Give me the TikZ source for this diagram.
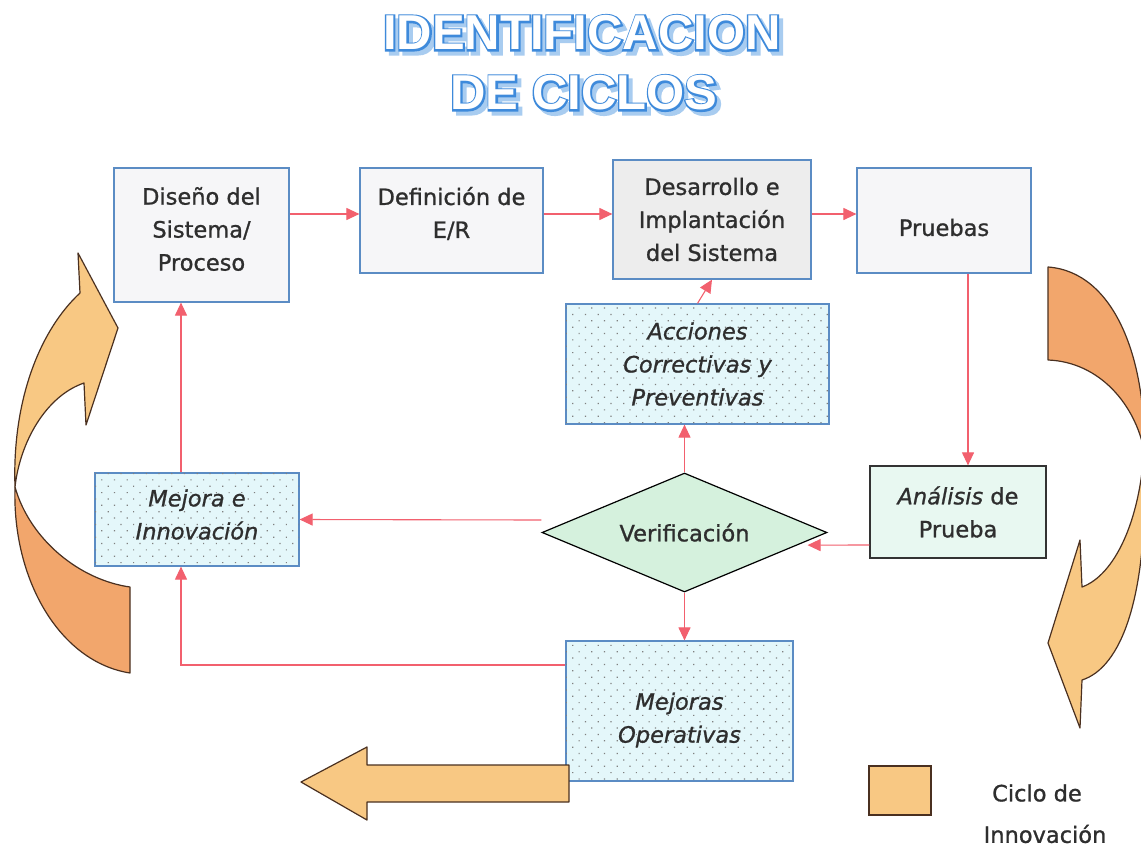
\documentclass[tikz,border=0pt]{standalone}
\usepackage{fontspec}
\setmainfont{DejaVu Sans}[FakeBold=1]
\newfontfamily\ttlfill{Liberation Sans Bold}
\newfontfamily\ttlstroke{Liberation Sans Bold}[FakeBold=7]
\usetikzlibrary{shapes.geometric,arrows.meta,patterns.meta,calc}

\definecolor{boxblue}{HTML}{5B8CC4}
\definecolor{conred}{HTML}{F2606E}
\definecolor{dotfill}{HTML}{E4F7FA}
\definecolor{verfill}{HTML}{D5F1DD}
\definecolor{anafill}{HTML}{E8F8F1}
\definecolor{desfill}{HTML}{EDEDED}
\definecolor{plainfill}{HTML}{F6F6F8}
\definecolor{orlight}{HTML}{F8C883}
\definecolor{ordark}{HTML}{F2A66C}
\definecolor{orline}{HTML}{4A3020}
\definecolor{txt}{HTML}{2E2E2E}
\definecolor{ttlblue}{HTML}{3E8ADB}
\definecolor{ttlshadow}{HTML}{A8CCF0}

\newcommand\figfont{\fontsize{22.5}{33}\selectfont}
\newcommand\ttlsize{\fontsize{49}{49}\selectfont}
% outlined title word: shadow, blue outline, white face
\newcommand\outlined[1]{%
  \rlap{\hspace{4pt}\raisebox{-4pt}{\ttlstroke\textcolor{ttlshadow}{#1}}}%
  \rlap{\ttlstroke\textcolor{ttlblue}{#1}}%
  {\ttlfill\textcolor{white}{#1}}}

\tikzset{
  box/.style={draw=boxblue, line width=1.2pt, align=center, text=txt,
              font=\figfont, inner sep=0pt},
  plainbox/.style={box, fill=plainfill},
  dotbox/.style={box, fill=dotfill, font=\figfont\itshape,
                 postaction={pattern={Dots[distance=9pt,angle=45,radius=0.85pt]},
                             pattern color=gray}},
  boxtext/.style={align=center, text=txt, font=\figfont, inner sep=0pt},
  conn/.style={draw=conred, line width=1.1pt,
               -{Triangle[length=13pt,width=12pt,fill=conred]}},
  ribbon/.style={draw=orline, line width=1.2pt, line join=round},
  ttl/.style={inner sep=0pt, font=\ttlsize},
  legtext/.style={text=txt, font=\figfont, inner sep=0pt}
}

\begin{document}
\begin{tikzpicture}[x=1pt,y=-1pt]
\useasboundingbox (0,0) rectangle (1141,849);
\fill[white] (0,0) rectangle (1141,849);

% title
\node[ttl] (t1) at (582,35) {\outlined{IDENTIFICACION}};
\node[ttl] (t2) at (584,95) {\outlined{DE CICLOS}};

% process boxes
\node[plainbox, minimum width=175, minimum height=134] (dis) at (201.5,235) {};
\node[boxtext] (dis-t) at ($(dis)+(0,-6)$) {Diseño del\\Sistema/\\Proceso};
\node[plainbox, minimum width=183, minimum height=105] (def) at (451.5,220.5) {};
\node[boxtext] (def-t) at ($(def)+(0,-7)$) {Definición de\\E/R};
\node[box, fill=desfill, minimum width=198, minimum height=119] (des) at (712,219.5)
  {Desarrollo e\\Implantación\\del Sistema};
\node[plainbox, minimum width=174, minimum height=105] (pru) at (944,220.5) {};
\node[boxtext] (pru-t) at ($(pru)+(0,7)$) {Pruebas};
\node[dotbox, minimum width=263, minimum height=120] (acc) at (697.5,364)
  {Acciones\\Correctivas y\\Preventivas};
\node[dotbox, minimum width=204, minimum height=93] (mej) at (197,519.5) {};
\node[boxtext, font=\figfont\itshape] (mej-t) at ($(mej)+(0,-5)$) {Mejora e\\Innovación};
\node[diamond, draw=black, line width=1.2pt, fill=verfill, text=txt, font=\figfont,
      shape aspect=2.4, minimum width=285, minimum height=119, inner sep=0pt]
  (ver) at (684.5,532.5) {Verificación};
\node[draw=black!80, line width=1.2pt, fill=anafill, text=txt, font=\figfont,
      align=center, inner sep=0pt, minimum width=176, minimum height=92] (ana) at (958,512)
  {\textit{Análisis} de\\Prueba};
\node[dotbox, minimum width=227, minimum height=140] (mops) at (679.5,711)
  {\\[2pt]Mejoras\\Operativas};

% connectors
\draw[conn] ($(dis.east)+(0,-21)$) -- ($(def.west)+(0,-6.5)$);
\draw[conn] ($(def.east)+(0,-6.5)$) -- ($(des.west)+(0,-5.5)$);
\draw[conn] ($(des.east)+(0,-5.5)$) -- ($(pru.west)+(0,-6.5)$);
\draw[conn] ($(pru.south)+(24,0)$) -- ($(ana.north)+(10,0)$);
\draw[conn] ($(ana.west)+(0,33)$) -- ($(ver.east)!0.21!(ver.south)+(10,0)$);
\draw[conn] ($(ver.west)+(0,-12.5)$) -- (mej.east);
\draw[conn] (ver.north) -- (ver.north |- acc.south);
\draw[conn] (acc.north) -- (des.south);
\draw[conn] (ver.south) -- (ver.south |- mops.north);
\draw[conn] ($(mej.north)+(-16,0)$) -- ($(dis.south)+(-20.5,0)$);
\draw[conn] ($(mops.west)+(0,-46)$) -| ($(mej.south)+(-16,0)$);

% left innovation cycle arrow (twisted band)
\draw[ribbon, fill=orlight]
  (80,293) .. controls (40,330) and (12,400) .. (15,487)
  .. controls (20,442) and (46,396) .. (84,383)
  -- (86,425) -- (118,328) -- (78,253) -- cycle;
\draw[ribbon, fill=ordark]
  (15,487) .. controls (12,580) and (60,662) .. (130,673)
  -- (130,587) .. controls (80,580) and (30,540) .. (15,487) -- cycle;

% right innovation cycle arrow, running past the edge
\begin{scope}
\clip (0,0) rectangle (1141,849);
\draw[ribbon, fill=ordark]
  (1048,267) .. controls (1115,272) and (1146,360) .. (1144,450)
  .. controls (1135,405) and (1100,362) .. (1048,360) -- cycle;
\draw[ribbon, fill=orlight]
  (1144,450) .. controls (1140,520) and (1115,575) .. (1082,587)
  -- (1080,540) -- (1048,643) -- (1080,728) -- (1082,680)
  .. controls (1120,668) and (1150,600) .. (1144,450) -- cycle;
\end{scope}

% outgoing block arrow
\draw[ribbon, fill=orlight]
  (569,765) -- (367,765) -- (367,747) -- (301,782) -- (367,820)
  -- (367,802) -- (569,802) -- cycle;

% legend
\node[draw=orline, line width=1.2pt, fill=orlight, minimum width=62,
      minimum height=49, inner sep=0pt] (legsq) at (900,790.5) {};
\node[legtext] (leg1) at (1037,793) {Ciclo de};
\node[legtext] (leg2) at (1045,834) {Innovación};
\end{tikzpicture}
\end{document}
